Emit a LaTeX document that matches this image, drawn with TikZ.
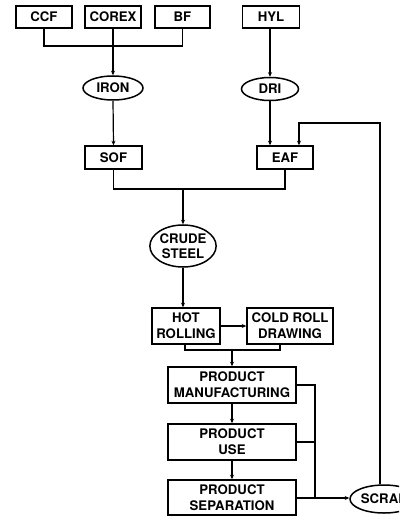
\documentclass[tikz,border=0pt]{standalone}
\usepackage{fontspec}
\setmainfont{TeX Gyre Heros}
\usetikzlibrary{shapes.geometric,arrows.meta}
\begin{document}
\begin{tikzpicture}[x=1pt,y=-1pt,
  every node/.style={font=\fontsize{13.2}{16}\selectfont\bfseries, align=center, inner sep=0pt},
  pbox/.style={draw, line width=1.5pt, rectangle},
  poval/.style={draw, line width=1.5pt, ellipse},
  conn/.style={line width=1.2pt},
  arr/.style={conn, -{Stealth[length=4.5pt,width=4pt]}}
]
\useasboundingbox (0,0) rectangle (399,518);
\clip (0,0) rectangle (399,518);
% top row
\node[pbox, minimum width=56pt, minimum height=22pt] (ccf) at (44,17) {CCF};
\node[pbox, minimum width=56pt, minimum height=22pt] (corex) at (113,17) {COREX};
\node[pbox, minimum width=55pt, minimum height=22pt] (bf) at (182.5,17) {BF};
\node[pbox, minimum width=57pt, minimum height=22pt] (hyl) at (271,17) {HYL};
% ovals
\node[poval, minimum width=60pt, minimum height=24pt] (iron) at (113,88) {IRON};
\node[poval, minimum width=57pt, minimum height=23pt] (dri) at (270,89) {DRI};
% furnaces
\node[pbox, minimum width=57pt, minimum height=23pt] (sof) at (113.5,157.5) {SOF};
\node[pbox, minimum width=56pt, minimum height=23pt] (eaf) at (285,157.5) {EAF};
% crude steel
\node[poval, minimum width=60pt, minimum height=42pt] (crude) at (183,246) {CRUDE\\[-1.5pt]STEEL};
% rolling
\node[pbox, minimum width=68pt, minimum height=36pt] (hot) at (186,326) {HOT\\ROLLING};
\node[pbox, minimum width=86pt, minimum height=36pt] (cold) at (290,326) {COLD ROLL\\DRAWING};
% products
\node[pbox, minimum width=128pt, minimum height=36pt] (manuf) at (232,385) {PRODUCT\\MANUFACTURING};
\node[pbox, minimum width=128pt, minimum height=36pt] (use) at (232,442) {PRODUCT\\USE};
\node[pbox, minimum width=128pt, minimum height=35pt] (sep) at (232,497.5) {PRODUCT\\SEPARATION};
\node[poval, minimum width=68pt, minimum height=28pt] (scrap) at (384,499) {SCRAP};
% coordinates
\coordinate (j1) at (113,46);
\coordinate (j2) at (183,189);
\coordinate (j3) at (232,350);
\coordinate (bus) at (315,498);
\coordinate (c1) at (380,123);
\coordinate (c2) at (299,123);
% connectors
\draw[conn] (ccf.south) |- (j1) -| (bf.south);
\draw[arr] (corex.south) -- (iron.north);
\draw[arr] (iron.south) -- (sof.north);
\draw[arr] (hyl.south -| dri.north) -- (dri.north);
\draw[arr] (dri.south) -- (dri.south |- eaf.north);
\draw[conn] (sof.south) |- (j2) -| (eaf.south);
\draw[arr] (j2) -- (crude.north);
\draw[arr] (crude.south) -- (crude.south |- hot.north);
\draw[arr] (hot.east) -- (cold.west);
\draw[conn] (hot.south -| 185,0) |- (j3) -| (cold.south -| 280,0);
\draw[arr] (j3) -- (j3 |- manuf.north);
\draw[arr] (manuf.south) -- (use.north);
\draw[arr] (use.south) -- (sep.north);
\draw[conn] (manuf.east) -| (bus);
\draw[conn] (use.east) -- (use.east -| bus);
\draw[arr] (sep.east |- bus) -- (scrap.west |- bus);
\draw[arr] (scrap.north -| c1) -- (c1) -- (c2) -- (c2 |- eaf.north);
\end{tikzpicture}
\end{document}
